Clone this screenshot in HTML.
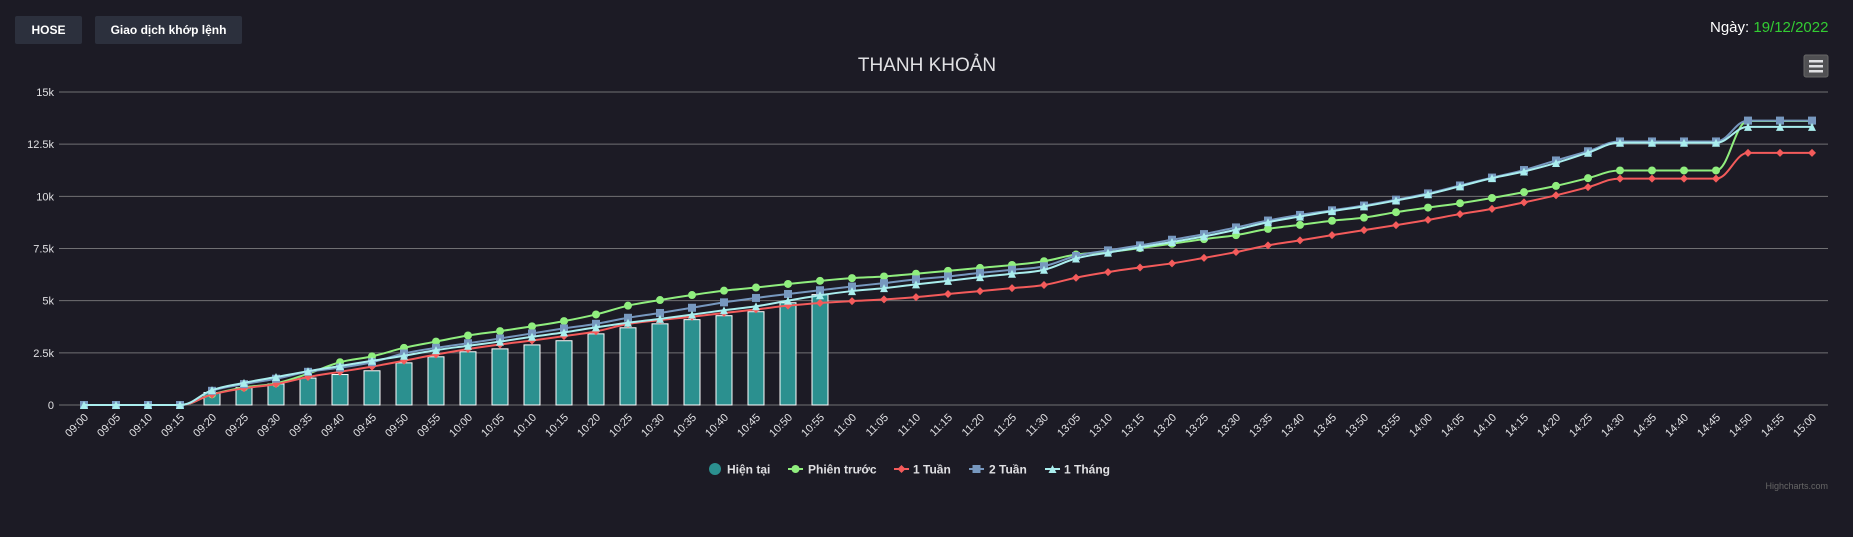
<!DOCTYPE html>
<html><head><meta charset="utf-8">
<style>
html,body{margin:0;padding:0;background:#1c1b25;width:1853px;height:537px;overflow:hidden;font-family:"Liberation Sans","Noto Sans CJK SC",sans-serif;}
.btn{position:absolute;top:16px;height:28px;background:#2c303d;color:#fff;font-weight:bold;font-size:12px;line-height:28px;text-align:center;border-radius:2px;}
</style></head><body>
<div class="btn" style="left:15px;width:67px">HOSE</div>
<div class="btn" style="left:95px;width:147px">Giao dịch khớp lệnh</div>
<div style="position:absolute;left:1710px;top:19px;font-size:15px;color:#fff">Ngày: <span style="color:#33cc33">19/12/2022</span></div>
<svg id="chart" width="1853" height="537" style="position:absolute;left:0;top:0">
<text x="927" y="71" text-anchor="middle" font-size="19" fill="#e0e0e3">THANH KHOẢN</text>
<g>
<rect x="1804" y="55" width="24" height="22" rx="2" fill="#505053" stroke="#666" stroke-width="1"/>
<rect x="1809" y="60" width="14" height="2.5" fill="#e0e0e3"/><rect x="1809" y="65" width="14" height="2.5" fill="#e0e0e3"/><rect x="1809" y="70" width="14" height="2.5" fill="#e0e0e3"/>
</g>
<g id="grid"></g><g id="bars"></g><g id="lines"></g><g id="xl"></g>
<g id="legend" font-size="12" font-weight="bold" fill="#e0e0e3">
<g><circle cx="715" cy="469" r="6" fill="#2b908f"/><text x="727" y="473.5">Hiện tại</text></g>
<g><line x1="788" y1="469" x2="803" y2="469" stroke="#90ee7e" stroke-width="2"/><circle cx="795.5" cy="469" r="4" fill="#90ee7e"/><text x="808" y="473.5">Phiên trước</text></g>
<g><line x1="894" y1="469" x2="909" y2="469" stroke="#f45b5b" stroke-width="2"/><path d="M901.5 465 L905.5 469 L901.5 473 L897.5 469Z" fill="#f45b5b"/><text x="913" y="473.5">1 Tuần</text></g>
<g><line x1="969" y1="469" x2="984" y2="469" stroke="#7798bf" stroke-width="2"/><rect x="972.5" y="465" width="8" height="8" fill="#7798bf"/><text x="989" y="473.5">2 Tuần</text></g>
<g><line x1="1045" y1="469" x2="1060" y2="469" stroke="#aaeeee" stroke-width="2"/><path d="M1052.5 465 L1056.5 473 L1048.5 473Z" fill="#aaeeee"/><text x="1064" y="473.5">1 Tháng</text></g>
</g>
<text x="1828" y="489" text-anchor="end" font-size="9" fill="#666">Highcharts.com</text>
</svg>
<script>
const categories=["09:00","09:05","09:10","09:15","09:20","09:25","09:30","09:35","09:40","09:45","09:50","09:55","10:00","10:05","10:10","10:15","10:20","10:25","10:30","10:35","10:40","10:45","10:50","10:55","11:00","11:05","11:10","11:15","11:20","11:25","11:30","13:05","13:10","13:15","13:20","13:25","13:30","13:35","13:40","13:45","13:50","13:55","14:00","14:05","14:10","14:15","14:20","14:25","14:30","14:35","14:40","14:45","14:50","14:55","15:00"];
const yTicks=[0,2500,5000,7500,10000,12500,15000];
const yTickLabels=["0","2.5k","5k","7.5k","10k","12.5k","15k"];
const hienTai=[0,0,0,0,600,830,1010,1290,1460,1640,2020,2310,2550,2690,2880,3080,3410,3700,3890,4090,4280,4470,4900,5290];
const phienTruoc=[0,0,0,0,510,840,1040,1500,2050,2330,2740,3040,3330,3540,3770,4020,4340,4760,5030,5270,5480,5630,5800,5950,6080,6160,6290,6430,6570,6710,6890,7210,7330,7520,7730,7950,8140,8440,8630,8830,8980,9240,9460,9670,9920,10200,10500,10870,11240,11240,11240,11240,13610,13610,13610];
const tuan1=[0,0,0,0,500,800,1000,1340,1590,1840,2120,2420,2680,2900,3090,3300,3530,3880,4070,4230,4410,4580,4760,4890,4980,5060,5170,5320,5460,5600,5750,6100,6370,6590,6790,7050,7330,7650,7890,8140,8380,8620,8870,9150,9400,9710,10050,10440,10850,10850,10850,10850,12080,12080,12080];
const tuan2=[0,0,0,0,680,1000,1260,1590,1790,2050,2470,2740,2960,3190,3430,3670,3890,4180,4410,4660,4920,5130,5320,5500,5680,5840,6020,6160,6330,6480,6650,7140,7410,7650,7920,8190,8510,8840,9110,9330,9560,9840,10140,10520,10900,11260,11720,12160,12630,12630,12630,12630,13630,13630,13630];
const thang1=[0,0,0,0,710,1060,1340,1620,1870,2120,2360,2630,2840,3040,3270,3480,3720,3940,4130,4330,4540,4730,5000,5260,5460,5600,5780,5950,6130,6290,6480,7020,7300,7560,7810,8080,8400,8760,9030,9290,9520,9800,10100,10480,10870,11190,11600,12090,12570,12570,12570,12570,13330,13330,13330];

const NS="http://www.w3.org/2000/svg";
const L=59,R=1828,T=92,B=405,yMax=15000;
const X=i=>84+i*(1812-84)/(categories.length-1);
const Y=v=>B-(v/yMax)*(B-T);
function mk(tag,attrs,parent){const e=document.createElementNS(NS,tag);for(const k in attrs)e.setAttribute(k,attrs[k]);parent.appendChild(e);return e;}
const grid=document.getElementById('grid');
yTicks.forEach((t,i)=>{
  const l=mk('line',{x1:L,x2:R,y1:Y(t),y2:Y(t),stroke:'#707073','stroke-width':1},grid);
  
  
  const tx=mk('text',{x:54,y:Y(t)+4,'text-anchor':'end','font-size':11,fill:'#e0e0e3'},grid);
  tx.textContent=yTickLabels[i];
  
  
});
const xl=document.getElementById('xl');
categories.forEach((c,i)=>{
  const x=X(i)+5,y=B+13;
  const t=mk('text',{x:x,y:y,'text-anchor':'end','font-size':11,fill:'#e0e0e3',transform:`rotate(-45 ${x} ${y})`},xl);
  t.textContent=c;
  
  
});
const bars=document.getElementById('bars');
hienTai.forEach((v,i)=>{
  if(v<=0)return;
  const r=mk('rect',{x:X(i)-8,y:Y(v),width:16,height:B-Y(v),fill:'#2b908f',stroke:'#ffffff','stroke-width':1},bars);
  
  
});
function spline(pts){
  let d=`M${pts[0][0]} ${pts[0][1]}`;const s=1.5,den=s+1;
  const cp=i=>{const p=pts[i],a=pts[i-1],b=pts[i+1];
    if(!a||!b)return null;
    let lx=(s*p[0]+a[0])/den,ly=(s*p[1]+a[1])/den,rx=(s*p[0]+b[0])/den,ry=(s*p[1]+b[1])/den;
    let c=0;if(rx!==lx)c=((ry-ly)*(rx-p[0]))/(rx-lx)+p[1]-ry;ly+=c;ry+=c;
    if(ly>a[1]&&ly>p[1]){ly=Math.max(a[1],p[1]);ry=2*p[1]-ly;}else if(ly<a[1]&&ly<p[1]){ly=Math.min(a[1],p[1]);ry=2*p[1]-ly;}
    if(ry>b[1]&&ry>p[1]){ry=Math.max(b[1],p[1]);ly=2*p[1]-ry;}else if(ry<b[1]&&ry<p[1]){ry=Math.min(b[1],p[1]);ly=2*p[1]-ry;}
    return {lx,ly,rx,ry};};
  for(let i=1;i<pts.length;i++){
    const c0=cp(i-1),c1=cp(i);
    const x1=c0?c0.rx:pts[i-1][0],y1=c0?c0.ry:pts[i-1][1];
    const x2=c1?c1.lx:pts[i][0],y2=c1?c1.ly:pts[i][1];
    d+=` C${x1} ${y1} ${x2} ${y2} ${pts[i][0]} ${pts[i][1]}`;
  }
  return d;
}
const lines=document.getElementById('lines');
const series=[[phienTruoc,'#90ee7e','circle','line-phien-truoc'],[tuan1,'#f45b5b','diamond','line-1-tuan'],[tuan2,'#7798bf','square','line-2-tuan'],[thang1,'#aaeeee','triangle','line-1-thang']];
series.forEach(([data,col,sym,name])=>{
  const g=mk('g',{},lines);
  
  
  const pts=data.map((v,i)=>[X(i),Y(v)]);
  mk('path',{d:spline(pts),fill:'none',stroke:col,'stroke-width':2},g);
  pts.forEach(([x,y])=>{
    let m;
    if(sym==='circle')m=mk('circle',{cx:x,cy:y,r:4,fill:col},g);
    else if(sym==='diamond')m=mk('path',{d:`M${x} ${y-4}L${x+4} ${y}L${x} ${y+4}L${x-4} ${y}Z`,fill:col},g);
    else if(sym==='square')m=mk('rect',{x:x-4,y:y-4,width:8,height:8,fill:col},g);
    else m=mk('path',{d:`M${x} ${y-4}L${x+4} ${y+4}L${x-4} ${y+4}Z`,fill:col},g);
    
    
  });
});
</script>
</body></html>
